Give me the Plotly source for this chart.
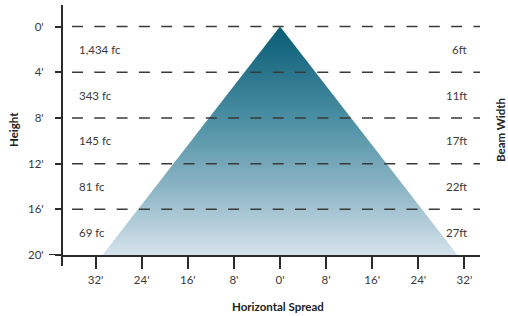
import plotly.graph_objects as go

# ---- data ----
height_ticks = [0, 4, 8, 12, 16, 20]
height_labels = ["0'", "4'", "8'", "12'", "16'", "20'"]
spread_ticks = [-32, -24, -16, -8, 0, 8, 16, 24, 32]
spread_labels = ["32'", "24'", "16'", "8'", "0'", "8'", "16'", "24'", "32'"]
zone_mid_heights = [2, 6, 10, 14, 18]
footcandles = ["1,434 fc", "343 fc", "145 fc", "81 fc", "69 fc"]
beam_widths = ["6ft", "11ft", "17ft", "22ft", "27ft"]
dashed_heights = [0, 4, 8, 12, 16]
beam_half_spread_at_20 = 30.8  # ft, each side of centre at 20'
beam_apex = (0, 0)
beam_depth = 20

# ---- styling / layout ----
FONT = "Lato"
TXT = "#3a3a3a"
AX = "#2b2b2b"
W, H = 508, 316
ML, MR, MT, MB = 62, 28, 5, 61
plot_w = W - ML - MR
plot_h = H - MT - MB

fig = go.Figure()

# beam triangle with vertical gradient
fig.add_trace(go.Scatter(
    x=[beam_apex[0], -beam_half_spread_at_20, beam_half_spread_at_20, beam_apex[0]],
    y=[beam_apex[1], beam_depth, beam_depth, beam_apex[1]],
    mode="lines", line=dict(width=0), fill="toself",
    fillgradient=dict(type="vertical",
                      colorscale=[[0, "#085c74"], [0.4, "#4a8ea2"], [0.7, "#8bb4c4"], [1, "#d4e2eb"]],
                      start=0, stop=beam_depth),
    hoverinfo="skip", showlegend=False,
))

shapes = []
for h in dashed_heights:
    shapes.append(dict(type="line", xref="paper", yref="y",
                       x0=10 / plot_w, x1=1, y0=h, y1=h,
                       line=dict(color="#3a3a3a", width=1.5, dash="11px,11.3px"),
                       layer="above"))
# y axis line extending below the x axis
shapes.append(dict(type="line", xref="paper", yref="paper", x0=0, x1=0,
                   y0=-11 / plot_h, y1=1, line=dict(color=AX, width=2)))
# x axis line extending left of y axis
shapes.append(dict(type="line", xref="paper", yref="y", x0=-13 / plot_w, x1=0,
                   y0=beam_depth, y1=beam_depth, line=dict(color=AX, width=2)))

LBL = dict(family=FONT, size=11.5, color=TXT)
annotations = []
for hm, fc, bw in zip(zone_mid_heights, footcandles, beam_widths):
    annotations.append(dict(x=15 / plot_w, y=hm, xref="paper", yref="y", text=fc,
                            showarrow=False, xanchor="left", yanchor="middle", font=LBL))
    annotations.append(dict(x=407 / plot_w, y=hm, xref="paper", yref="y", text=bw,
                            showarrow=False, xanchor="right", yanchor="middle", font=LBL))

TTL = dict(family=FONT, size=11.5, color="#222")
annotations += [
    dict(x=(13 - ML) / plot_w, y=0.5, xref="paper", yref="paper", text="<b>Height</b>",
         textangle=-90, showarrow=False, xanchor="center", yanchor="middle", font=TTL),
    dict(x=(500 - ML) / plot_w, y=0.5, xref="paper", yref="paper", text="<b>Beam Width</b>",
         textangle=-90, showarrow=False, xanchor="center", yanchor="middle", font=TTL),
    dict(x=(278 - ML) / plot_w, y=-(306 - (H - MB)) / plot_h, xref="paper", yref="paper",
         text="<b>Horizontal Spread</b>", showarrow=False, xanchor="center", yanchor="middle",
         font=TTL),
]

px_per_ft_x = 46.1 / 8
x_left = (ML - 280) / px_per_ft_x
x_right = (W - MR - 280) / px_per_ft_x
px_per_ft_y = 11.42
y_top = -(26.6 - MT) / px_per_ft_y

fig.update_layout(
    width=W, height=H, margin=dict(l=ML, r=MR, t=MT, b=MB),
    paper_bgcolor="white", plot_bgcolor="white",
    showlegend=False, shapes=shapes, annotations=annotations,
    font=dict(family=FONT, size=11, color=TXT),
    xaxis=dict(range=[x_left, x_right], tickvals=spread_ticks, ticktext=spread_labels,
               showgrid=False, zeroline=False, showline=True, linecolor=AX, linewidth=2,
               ticks="outside", ticklen=12, tickwidth=2, tickcolor=AX,
               ticklabelstandoff=1,
               tickfont=LBL, fixedrange=True),
    yaxis=dict(range=[beam_depth, y_top], tickvals=height_ticks, ticktext=height_labels,
               showgrid=False, zeroline=False, showline=False,
               ticks="outside", ticklen=6, tickwidth=2, tickcolor=AX,
               ticklabelstandoff=9,
               tickfont=LBL, fixedrange=True),
)

fig.write_html("out.html", config={"displayModeBar": False},
               post_script="document.body.style.margin='0';")
